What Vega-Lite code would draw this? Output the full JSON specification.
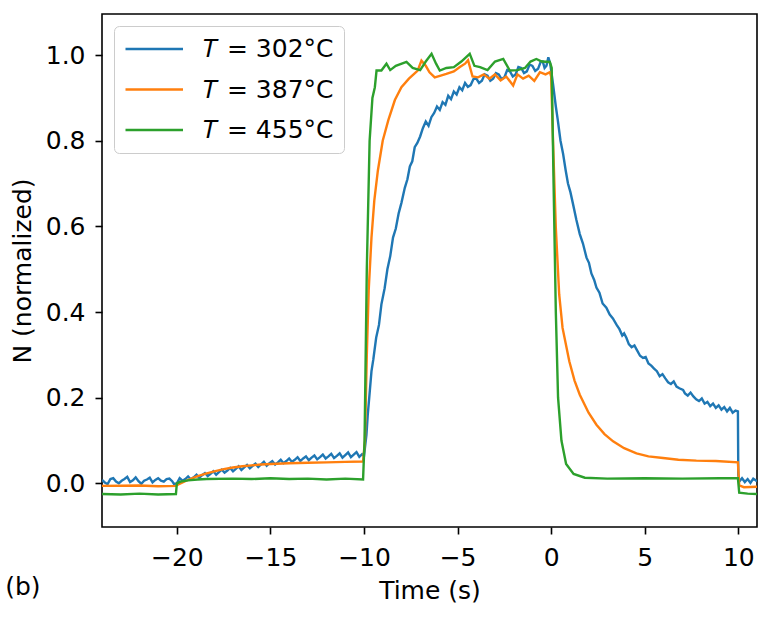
{
  "$schema": "https://vega.github.io/schema/vega-lite/v6.json",
  "width": 655,
  "height": 513,
  "autosize": "none",
  "padding": {"left": 102, "top": 14, "right": 9, "bottom": 91},
  "background": "white",
  "title": {
    "text": "(b)",
    "orient": "bottom",
    "anchor": "start",
    "frame": "bounds",
    "offset": -28,
    "dx": -5,
    "fontSize": 25,
    "fontWeight": "normal",
    "font": "DejaVu Sans",
    "color": "black"
  },
  "data": {
    "values": [
      {"series": "T302", "time": -24.0, "n": 0.008},
      {"series": "T302", "time": -23.85, "n": 0.002},
      {"series": "T302", "time": -23.7, "n": -0.002},
      {"series": "T302", "time": -23.55, "n": 0.01},
      {"series": "T302", "time": -23.4, "n": 0.012},
      {"series": "T302", "time": -23.25, "n": 0.004},
      {"series": "T302", "time": -23.1, "n": 0.0},
      {"series": "T302", "time": -22.95, "n": 0.006},
      {"series": "T302", "time": -22.8, "n": 0.01},
      {"series": "T302", "time": -22.65, "n": 0.015},
      {"series": "T302", "time": -22.5, "n": 0.003},
      {"series": "T302", "time": -22.35, "n": 0.007},
      {"series": "T302", "time": -22.2, "n": 0.014},
      {"series": "T302", "time": -22.05, "n": 0.005},
      {"series": "T302", "time": -21.9, "n": -0.001},
      {"series": "T302", "time": -21.75, "n": 0.006},
      {"series": "T302", "time": -21.6, "n": 0.009},
      {"series": "T302", "time": -21.45, "n": 0.013},
      {"series": "T302", "time": -21.3, "n": 0.002},
      {"series": "T302", "time": -21.15, "n": 0.008},
      {"series": "T302", "time": -21.0, "n": 0.012},
      {"series": "T302", "time": -20.85, "n": 0.006},
      {"series": "T302", "time": -20.7, "n": 0.004},
      {"series": "T302", "time": -20.55, "n": 0.01},
      {"series": "T302", "time": -20.4, "n": 0.011},
      {"series": "T302", "time": -20.25, "n": 0.005},
      {"series": "T302", "time": -20.15, "n": -0.002},
      {"series": "T302", "time": -20.0, "n": 0.0},
      {"series": "T302", "time": -19.85, "n": 0.012},
      {"series": "T302", "time": -19.7, "n": 0.006},
      {"series": "T302", "time": -19.55, "n": 0.01},
      {"series": "T302", "time": -19.4, "n": 0.016},
      {"series": "T302", "time": -19.25, "n": 0.009},
      {"series": "T302", "time": -19.1, "n": 0.014},
      {"series": "T302", "time": -18.95, "n": 0.02},
      {"series": "T302", "time": -18.8, "n": 0.013},
      {"series": "T302", "time": -18.65, "n": 0.019},
      {"series": "T302", "time": -18.5, "n": 0.024},
      {"series": "T302", "time": -18.35, "n": 0.017},
      {"series": "T302", "time": -18.2, "n": 0.022},
      {"series": "T302", "time": -18.05, "n": 0.028},
      {"series": "T302", "time": -17.9, "n": 0.02},
      {"series": "T302", "time": -17.75, "n": 0.026},
      {"series": "T302", "time": -17.6, "n": 0.032},
      {"series": "T302", "time": -17.45, "n": 0.025},
      {"series": "T302", "time": -17.3, "n": 0.03},
      {"series": "T302", "time": -17.15, "n": 0.036},
      {"series": "T302", "time": -17.0, "n": 0.028},
      {"series": "T302", "time": -16.85, "n": 0.034},
      {"series": "T302", "time": -16.7, "n": 0.04},
      {"series": "T302", "time": -16.55, "n": 0.031},
      {"series": "T302", "time": -16.4, "n": 0.037},
      {"series": "T302", "time": -16.25, "n": 0.043},
      {"series": "T302", "time": -16.1, "n": 0.035},
      {"series": "T302", "time": -15.95, "n": 0.041},
      {"series": "T302", "time": -15.8, "n": 0.046},
      {"series": "T302", "time": -15.65, "n": 0.038},
      {"series": "T302", "time": -15.5, "n": 0.044},
      {"series": "T302", "time": -15.35, "n": 0.05},
      {"series": "T302", "time": -15.2, "n": 0.041},
      {"series": "T302", "time": -15.05, "n": 0.047},
      {"series": "T302", "time": -14.9, "n": 0.052},
      {"series": "T302", "time": -14.75, "n": 0.044},
      {"series": "T302", "time": -14.6, "n": 0.049},
      {"series": "T302", "time": -14.45, "n": 0.055},
      {"series": "T302", "time": -14.3, "n": 0.047},
      {"series": "T302", "time": -14.15, "n": 0.052},
      {"series": "T302", "time": -14.0, "n": 0.058},
      {"series": "T302", "time": -13.85, "n": 0.05},
      {"series": "T302", "time": -13.7, "n": 0.055},
      {"series": "T302", "time": -13.55, "n": 0.061},
      {"series": "T302", "time": -13.4, "n": 0.052},
      {"series": "T302", "time": -13.25, "n": 0.058},
      {"series": "T302", "time": -13.1, "n": 0.063},
      {"series": "T302", "time": -12.95, "n": 0.054},
      {"series": "T302", "time": -12.8, "n": 0.06},
      {"series": "T302", "time": -12.65, "n": 0.065},
      {"series": "T302", "time": -12.5, "n": 0.056},
      {"series": "T302", "time": -12.35, "n": 0.061},
      {"series": "T302", "time": -12.2, "n": 0.067},
      {"series": "T302", "time": -12.05, "n": 0.058},
      {"series": "T302", "time": -11.9, "n": 0.063},
      {"series": "T302", "time": -11.75, "n": 0.069},
      {"series": "T302", "time": -11.6, "n": 0.059},
      {"series": "T302", "time": -11.45, "n": 0.064},
      {"series": "T302", "time": -11.3, "n": 0.07},
      {"series": "T302", "time": -11.15, "n": 0.06},
      {"series": "T302", "time": -11.0, "n": 0.066},
      {"series": "T302", "time": -10.85, "n": 0.072},
      {"series": "T302", "time": -10.7, "n": 0.061},
      {"series": "T302", "time": -10.55, "n": 0.067},
      {"series": "T302", "time": -10.4, "n": 0.073},
      {"series": "T302", "time": -10.25, "n": 0.062},
      {"series": "T302", "time": -10.1, "n": 0.068},
      {"series": "T302", "time": -10.0, "n": 0.064},
      {"series": "T302", "time": -9.87, "n": 0.113},
      {"series": "T302", "time": -9.8, "n": 0.16},
      {"series": "T302", "time": -9.72, "n": 0.2},
      {"series": "T302", "time": -9.6, "n": 0.262},
      {"series": "T302", "time": -9.5, "n": 0.29},
      {"series": "T302", "time": -9.35, "n": 0.34},
      {"series": "T302", "time": -9.2, "n": 0.37},
      {"series": "T302", "time": -9.07, "n": 0.418},
      {"series": "T302", "time": -8.9, "n": 0.455},
      {"series": "T302", "time": -8.75, "n": 0.5},
      {"series": "T302", "time": -8.6, "n": 0.53},
      {"series": "T302", "time": -8.45, "n": 0.574},
      {"series": "T302", "time": -8.3, "n": 0.595},
      {"series": "T302", "time": -8.15, "n": 0.63},
      {"series": "T302", "time": -8.0, "n": 0.655},
      {"series": "T302", "time": -7.82, "n": 0.69},
      {"series": "T302", "time": -7.68, "n": 0.71},
      {"series": "T302", "time": -7.55, "n": 0.74},
      {"series": "T302", "time": -7.42, "n": 0.752},
      {"series": "T302", "time": -7.29, "n": 0.785},
      {"series": "T302", "time": -7.15, "n": 0.795},
      {"series": "T302", "time": -7.0, "n": 0.81},
      {"series": "T302", "time": -6.85, "n": 0.83},
      {"series": "T302", "time": -6.7, "n": 0.845},
      {"series": "T302", "time": -6.55, "n": 0.835},
      {"series": "T302", "time": -6.4, "n": 0.855},
      {"series": "T302", "time": -6.25, "n": 0.865},
      {"series": "T302", "time": -6.1, "n": 0.88},
      {"series": "T302", "time": -5.95, "n": 0.872},
      {"series": "T302", "time": -5.8, "n": 0.89},
      {"series": "T302", "time": -5.65, "n": 0.884},
      {"series": "T302", "time": -5.5, "n": 0.905},
      {"series": "T302", "time": -5.35, "n": 0.897},
      {"series": "T302", "time": -5.2, "n": 0.915},
      {"series": "T302", "time": -5.05, "n": 0.908},
      {"series": "T302", "time": -4.9, "n": 0.925},
      {"series": "T302", "time": -4.75, "n": 0.918},
      {"series": "T302", "time": -4.6, "n": 0.935},
      {"series": "T302", "time": -4.45, "n": 0.926},
      {"series": "T302", "time": -4.3, "n": 0.93},
      {"series": "T302", "time": -4.15, "n": 0.944},
      {"series": "T302", "time": -4.0, "n": 0.945},
      {"series": "T302", "time": -3.85, "n": 0.935},
      {"series": "T302", "time": -3.7, "n": 0.94},
      {"series": "T302", "time": -3.55, "n": 0.955},
      {"series": "T302", "time": -3.4, "n": 0.952},
      {"series": "T302", "time": -3.25, "n": 0.94},
      {"series": "T302", "time": -3.1, "n": 0.945},
      {"series": "T302", "time": -2.95, "n": 0.958},
      {"series": "T302", "time": -2.8, "n": 0.955},
      {"series": "T302", "time": -2.65, "n": 0.944},
      {"series": "T302", "time": -2.5, "n": 0.948},
      {"series": "T302", "time": -2.35, "n": 0.965},
      {"series": "T302", "time": -2.2, "n": 0.962},
      {"series": "T302", "time": -2.05, "n": 0.95},
      {"series": "T302", "time": -1.9, "n": 0.955},
      {"series": "T302", "time": -1.75, "n": 0.972},
      {"series": "T302", "time": -1.6, "n": 0.97},
      {"series": "T302", "time": -1.45, "n": 0.958},
      {"series": "T302", "time": -1.3, "n": 0.962},
      {"series": "T302", "time": -1.15, "n": 0.978},
      {"series": "T302", "time": -1.0, "n": 0.975},
      {"series": "T302", "time": -0.85, "n": 0.963},
      {"series": "T302", "time": -0.7, "n": 0.968},
      {"series": "T302", "time": -0.55, "n": 0.985},
      {"series": "T302", "time": -0.45, "n": 0.985},
      {"series": "T302", "time": -0.35, "n": 0.97},
      {"series": "T302", "time": -0.25, "n": 0.975},
      {"series": "T302", "time": -0.15, "n": 0.995},
      {"series": "T302", "time": -0.05, "n": 0.98},
      {"series": "T302", "time": 0.1, "n": 0.933},
      {"series": "T302", "time": 0.25, "n": 0.88},
      {"series": "T302", "time": 0.35, "n": 0.85},
      {"series": "T302", "time": 0.5, "n": 0.8},
      {"series": "T302", "time": 0.64, "n": 0.769},
      {"series": "T302", "time": 0.78, "n": 0.73},
      {"series": "T302", "time": 0.9, "n": 0.7},
      {"series": "T302", "time": 1.03, "n": 0.68},
      {"series": "T302", "time": 1.17, "n": 0.652},
      {"series": "T302", "time": 1.35, "n": 0.615},
      {"series": "T302", "time": 1.53, "n": 0.582},
      {"series": "T302", "time": 1.7, "n": 0.56},
      {"series": "T302", "time": 1.89, "n": 0.527},
      {"series": "T302", "time": 2.02, "n": 0.515},
      {"series": "T302", "time": 2.15, "n": 0.49},
      {"series": "T302", "time": 2.3, "n": 0.475},
      {"series": "T302", "time": 2.42, "n": 0.457},
      {"series": "T302", "time": 2.58, "n": 0.445},
      {"series": "T302", "time": 2.75, "n": 0.42},
      {"series": "T302", "time": 2.95, "n": 0.41},
      {"series": "T302", "time": 3.13, "n": 0.394},
      {"series": "T302", "time": 3.3, "n": 0.385},
      {"series": "T302", "time": 3.5, "n": 0.37},
      {"series": "T302", "time": 3.65, "n": 0.36},
      {"series": "T302", "time": 3.8, "n": 0.345},
      {"series": "T302", "time": 3.9, "n": 0.35},
      {"series": "T302", "time": 4.02, "n": 0.34},
      {"series": "T302", "time": 4.15, "n": 0.325},
      {"series": "T302", "time": 4.3, "n": 0.318},
      {"series": "T302", "time": 4.45, "n": 0.322},
      {"series": "T302", "time": 4.6, "n": 0.31},
      {"series": "T302", "time": 4.75, "n": 0.298},
      {"series": "T302", "time": 4.91, "n": 0.293},
      {"series": "T302", "time": 5.05, "n": 0.295},
      {"series": "T302", "time": 5.2, "n": 0.28},
      {"series": "T302", "time": 5.35, "n": 0.275},
      {"series": "T302", "time": 5.5, "n": 0.268},
      {"series": "T302", "time": 5.65, "n": 0.262},
      {"series": "T302", "time": 5.8, "n": 0.25},
      {"series": "T302", "time": 5.95, "n": 0.255},
      {"series": "T302", "time": 6.1, "n": 0.245},
      {"series": "T302", "time": 6.25, "n": 0.236},
      {"series": "T302", "time": 6.4, "n": 0.232},
      {"series": "T302", "time": 6.55, "n": 0.238},
      {"series": "T302", "time": 6.7, "n": 0.226},
      {"series": "T302", "time": 6.85, "n": 0.222},
      {"series": "T302", "time": 7.05, "n": 0.218},
      {"series": "T302", "time": 7.15, "n": 0.21},
      {"series": "T302", "time": 7.3, "n": 0.205},
      {"series": "T302", "time": 7.45, "n": 0.212},
      {"series": "T302", "time": 7.6, "n": 0.203},
      {"series": "T302", "time": 7.75, "n": 0.196},
      {"series": "T302", "time": 7.9, "n": 0.192},
      {"series": "T302", "time": 8.05, "n": 0.198},
      {"series": "T302", "time": 8.2, "n": 0.186},
      {"series": "T302", "time": 8.35, "n": 0.19},
      {"series": "T302", "time": 8.5, "n": 0.18},
      {"series": "T302", "time": 8.65, "n": 0.186},
      {"series": "T302", "time": 8.8, "n": 0.176},
      {"series": "T302", "time": 8.95, "n": 0.182},
      {"series": "T302", "time": 9.1, "n": 0.172},
      {"series": "T302", "time": 9.25, "n": 0.178},
      {"series": "T302", "time": 9.4, "n": 0.168},
      {"series": "T302", "time": 9.55, "n": 0.176},
      {"series": "T302", "time": 9.7, "n": 0.165},
      {"series": "T302", "time": 9.85, "n": 0.17},
      {"series": "T302", "time": 9.98, "n": 0.168},
      {"series": "T302", "time": 10.0, "n": 0.02},
      {"series": "T302", "time": 10.05, "n": 0.004},
      {"series": "T302", "time": 10.2, "n": 0.012},
      {"series": "T302", "time": 10.35, "n": 0.003},
      {"series": "T302", "time": 10.5, "n": 0.01},
      {"series": "T302", "time": 10.65, "n": 0.001},
      {"series": "T302", "time": 10.8, "n": 0.011},
      {"series": "T302", "time": 11.0, "n": 0.005},

      {"series": "T387", "time": -24.0, "n": -0.006},
      {"series": "T387", "time": -22.0, "n": -0.005},
      {"series": "T387", "time": -21.0, "n": -0.007},
      {"series": "T387", "time": -20.05, "n": -0.006},
      {"series": "T387", "time": -20.0, "n": -0.004},
      {"series": "T387", "time": -19.5, "n": 0.006},
      {"series": "T387", "time": -19.0, "n": 0.015},
      {"series": "T387", "time": -18.5, "n": 0.022},
      {"series": "T387", "time": -18.0, "n": 0.028},
      {"series": "T387", "time": -17.5, "n": 0.033},
      {"series": "T387", "time": -17.0, "n": 0.037},
      {"series": "T387", "time": -16.5, "n": 0.04},
      {"series": "T387", "time": -16.0, "n": 0.042},
      {"series": "T387", "time": -15.5, "n": 0.044},
      {"series": "T387", "time": -15.0, "n": 0.045},
      {"series": "T387", "time": -14.0, "n": 0.047},
      {"series": "T387", "time": -13.0, "n": 0.048},
      {"series": "T387", "time": -12.0, "n": 0.049},
      {"series": "T387", "time": -11.0, "n": 0.05},
      {"series": "T387", "time": -10.05, "n": 0.051},
      {"series": "T387", "time": -9.95, "n": 0.1},
      {"series": "T387", "time": -9.85, "n": 0.3},
      {"series": "T387", "time": -9.75, "n": 0.45},
      {"series": "T387", "time": -9.6, "n": 0.574},
      {"series": "T387", "time": -9.45, "n": 0.66},
      {"series": "T387", "time": -9.26, "n": 0.73},
      {"series": "T387", "time": -9.0, "n": 0.8},
      {"series": "T387", "time": -8.7, "n": 0.848},
      {"series": "T387", "time": -8.35, "n": 0.895},
      {"series": "T387", "time": -8.0, "n": 0.925},
      {"series": "T387", "time": -7.6, "n": 0.945},
      {"series": "T387", "time": -7.13, "n": 0.964},
      {"series": "T387", "time": -6.93, "n": 0.987},
      {"series": "T387", "time": -6.7, "n": 0.975},
      {"series": "T387", "time": -6.5, "n": 0.96},
      {"series": "T387", "time": -6.22, "n": 0.948},
      {"series": "T387", "time": -5.9, "n": 0.952},
      {"series": "T387", "time": -5.6, "n": 0.956},
      {"series": "T387", "time": -5.2, "n": 0.962},
      {"series": "T387", "time": -4.88, "n": 0.972},
      {"series": "T387", "time": -4.6, "n": 0.98},
      {"series": "T387", "time": -4.44, "n": 0.988},
      {"series": "T387", "time": -4.2, "n": 0.95},
      {"series": "T387", "time": -3.9, "n": 0.948},
      {"series": "T387", "time": -3.6, "n": 0.955},
      {"series": "T387", "time": -3.3, "n": 0.945},
      {"series": "T387", "time": -3.0, "n": 0.955},
      {"series": "T387", "time": -2.7, "n": 0.941},
      {"series": "T387", "time": -2.4, "n": 0.95},
      {"series": "T387", "time": -2.03, "n": 0.929},
      {"series": "T387", "time": -1.8, "n": 0.955},
      {"series": "T387", "time": -1.5, "n": 0.945},
      {"series": "T387", "time": -1.2, "n": 0.952},
      {"series": "T387", "time": -0.9, "n": 0.94},
      {"series": "T387", "time": -0.6, "n": 0.96},
      {"series": "T387", "time": -0.3, "n": 0.955},
      {"series": "T387", "time": -0.07, "n": 0.96},
      {"series": "T387", "time": 0.0, "n": 0.95},
      {"series": "T387", "time": 0.1, "n": 0.8},
      {"series": "T387", "time": 0.25, "n": 0.597},
      {"series": "T387", "time": 0.43, "n": 0.441},
      {"series": "T387", "time": 0.61, "n": 0.363},
      {"series": "T387", "time": 0.97, "n": 0.285},
      {"series": "T387", "time": 1.25, "n": 0.24},
      {"series": "T387", "time": 1.53, "n": 0.207},
      {"series": "T387", "time": 2.0, "n": 0.165},
      {"series": "T387", "time": 2.42, "n": 0.137},
      {"series": "T387", "time": 2.85, "n": 0.115},
      {"series": "T387", "time": 3.31, "n": 0.098},
      {"series": "T387", "time": 3.9, "n": 0.082},
      {"series": "T387", "time": 4.56, "n": 0.07},
      {"series": "T387", "time": 5.2, "n": 0.063},
      {"series": "T387", "time": 5.98, "n": 0.059},
      {"series": "T387", "time": 6.8, "n": 0.055},
      {"series": "T387", "time": 7.76, "n": 0.053},
      {"series": "T387", "time": 8.8, "n": 0.052},
      {"series": "T387", "time": 9.98, "n": 0.049},
      {"series": "T387", "time": 10.05, "n": -0.005},
      {"series": "T387", "time": 10.3, "n": -0.009},
      {"series": "T387", "time": 11.0, "n": -0.008},

      {"series": "T455", "time": -24.0, "n": -0.025},
      {"series": "T455", "time": -23.0, "n": -0.026},
      {"series": "T455", "time": -22.0, "n": -0.024},
      {"series": "T455", "time": -21.0, "n": -0.026},
      {"series": "T455", "time": -20.05, "n": -0.025},
      {"series": "T455", "time": -20.0, "n": 0.0},
      {"series": "T455", "time": -19.8, "n": 0.004},
      {"series": "T455", "time": -19.4, "n": 0.007},
      {"series": "T455", "time": -18.9, "n": 0.009},
      {"series": "T455", "time": -18.4, "n": 0.01},
      {"series": "T455", "time": -17.0, "n": 0.011},
      {"series": "T455", "time": -16.0, "n": 0.01},
      {"series": "T455", "time": -15.0, "n": 0.012},
      {"series": "T455", "time": -14.0, "n": 0.01},
      {"series": "T455", "time": -13.0, "n": 0.011},
      {"series": "T455", "time": -12.0, "n": 0.009},
      {"series": "T455", "time": -11.0, "n": 0.011},
      {"series": "T455", "time": -10.05, "n": 0.009},
      {"series": "T455", "time": -9.97, "n": 0.1},
      {"series": "T455", "time": -9.85, "n": 0.5},
      {"series": "T455", "time": -9.7, "n": 0.8},
      {"series": "T455", "time": -9.55, "n": 0.9},
      {"series": "T455", "time": -9.42, "n": 0.925},
      {"series": "T455", "time": -9.33, "n": 0.964},
      {"series": "T455", "time": -9.07, "n": 0.964},
      {"series": "T455", "time": -8.8, "n": 0.98},
      {"series": "T455", "time": -8.6, "n": 0.965},
      {"series": "T455", "time": -8.3, "n": 0.975},
      {"series": "T455", "time": -7.73, "n": 0.984},
      {"series": "T455", "time": -7.4, "n": 0.97},
      {"series": "T455", "time": -7.0, "n": 0.965},
      {"series": "T455", "time": -6.7, "n": 0.985},
      {"series": "T455", "time": -6.39, "n": 1.003},
      {"series": "T455", "time": -6.15, "n": 0.98},
      {"series": "T455", "time": -5.95, "n": 0.964},
      {"series": "T455", "time": -5.6, "n": 0.97},
      {"series": "T455", "time": -5.2, "n": 0.972},
      {"series": "T455", "time": -4.8, "n": 0.985},
      {"series": "T455", "time": -4.35, "n": 1.003},
      {"series": "T455", "time": -4.1, "n": 0.975},
      {"series": "T455", "time": -3.8, "n": 0.972},
      {"series": "T455", "time": -3.4, "n": 0.965},
      {"series": "T455", "time": -3.0, "n": 0.985},
      {"series": "T455", "time": -2.56, "n": 0.991},
      {"series": "T455", "time": -2.21, "n": 0.964},
      {"series": "T455", "time": -1.8, "n": 0.965},
      {"series": "T455", "time": -1.4, "n": 0.97},
      {"series": "T455", "time": -1.1, "n": 0.985},
      {"series": "T455", "time": -0.79, "n": 0.991},
      {"series": "T455", "time": -0.5, "n": 0.985},
      {"series": "T455", "time": -0.07, "n": 0.984},
      {"series": "T455", "time": 0.03, "n": 0.97},
      {"series": "T455", "time": 0.13, "n": 0.7},
      {"series": "T455", "time": 0.25, "n": 0.4},
      {"series": "T455", "time": 0.37, "n": 0.2},
      {"series": "T455", "time": 0.55, "n": 0.1},
      {"series": "T455", "time": 0.8, "n": 0.045},
      {"series": "T455", "time": 1.2, "n": 0.022},
      {"series": "T455", "time": 1.8, "n": 0.013},
      {"series": "T455", "time": 3.0, "n": 0.011},
      {"series": "T455", "time": 5.0, "n": 0.012},
      {"series": "T455", "time": 7.0, "n": 0.011},
      {"series": "T455", "time": 9.0, "n": 0.012},
      {"series": "T455", "time": 9.98, "n": 0.012},
      {"series": "T455", "time": 10.05, "n": -0.022},
      {"series": "T455", "time": 10.5, "n": -0.024},
      {"series": "T455", "time": 11.0, "n": -0.025}
    ]
  },
  "mark": {"type": "line", "strokeWidth": 2.4, "clip": true},
  "encoding": {
    "x": {
      "field": "time",
      "type": "quantitative",
      "title": "Time (s)",
      "scale": {"domain": [-24, 11], "nice": false, "zero": false},
      "axis": {"values": [-20, -15, -10, -5, 0, 5, 10], "labelPadding": 11, "titlePadding": 8}
    },
    "y": {
      "field": "n",
      "type": "quantitative",
      "title": "N (normalized)",
      "scale": {"domain": [-0.102, 1.096], "nice": false, "zero": false},
      "axis": {"values": [0, 0.2, 0.4, 0.6, 0.8, 1.0], "format": ".1f", "labelPadding": 10, "titlePadding": 10}
    },
    "color": {
      "field": "series",
      "type": "nominal",
      "scale": {
        "domain": ["T302", "T387", "T455"],
        "range": ["#1f77b4", "#ff7f0e", "#2ca02c"]
      },
      "legend": {
        "title": null,
        "orient": "top-left",
        "offset": 12,
        "labelExpr": "datum.value == 'T302' ? '𝑇 = 302°C' : datum.value == 'T387' ? '𝑇 = 387°C' : '𝑇 = 455°C'"
      }
    },
    "order": {"field": "time", "type": "quantitative"}
  },
  "config": {
    "font": "DejaVu Sans",
    "view": {"stroke": "black", "strokeWidth": 1.6},
    "axis": {
      "domain": false,
      "grid": false,
      "ticks": true,
      "tickColor": "black",
      "tickWidth": 1.6,
      "tickSize": 7,
      "labelFont": "DejaVu Sans",
      "labelFontSize": 25,
      "labelColor": "black",
      "titleFont": "DejaVu Sans",
      "titleFontSize": 25,
      "titleFontWeight": "normal",
      "titleColor": "black"
    },
    "legend": {
      "symbolType": "M-1,0H4",
      "symbolSize": 529,
      "symbolStrokeWidth": 2.4,
      "symbolFillColor": "transparent",
      "labelFont": "DejaVu Sans",
      "labelFontSize": 25,
      "labelColor": "black",
      "labelOffset": 53,
      "rowPadding": 14.5,
      "padding": 10,
      "fillColor": "rgba(255,255,255,0.8)",
      "strokeColor": "#cccccc",
      "cornerRadius": 5
    }
  }
}
